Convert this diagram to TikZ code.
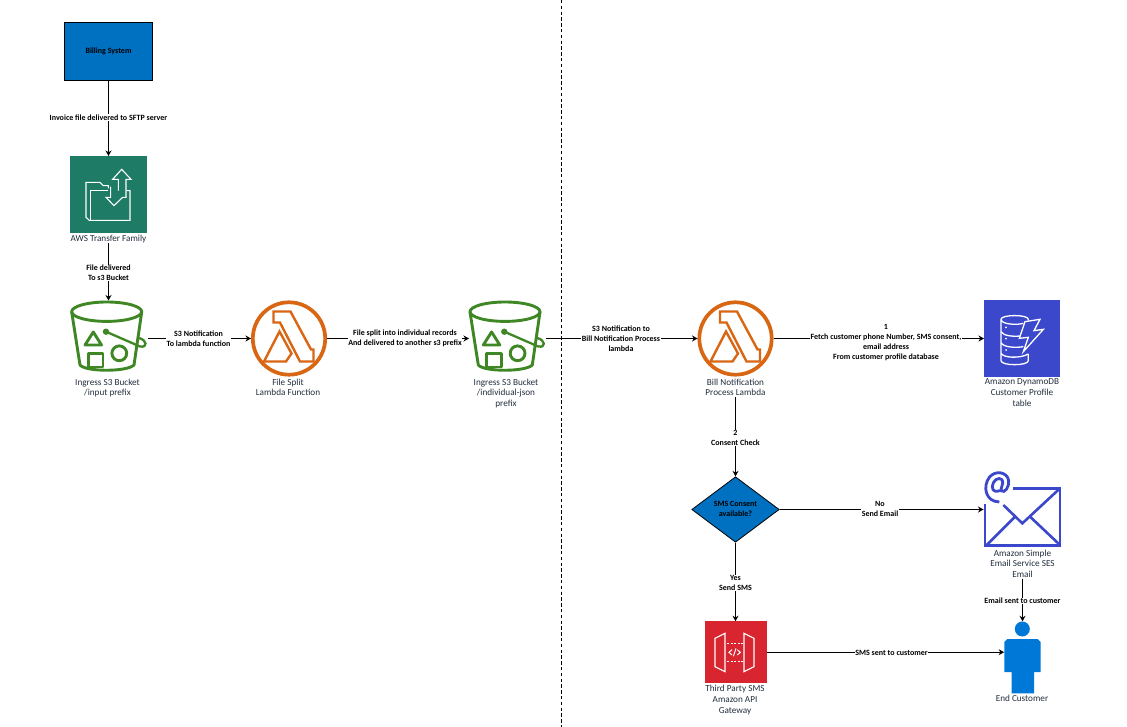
\documentclass[tikz,border=0pt]{standalone}
\usepackage{fontspec}
\setmainfont{Carlito}
\usetikzlibrary{arrows.meta,shapes.geometric}
\definecolor{billblue}{HTML}{0070C0}
\definecolor{transfergreen}{HTML}{1D7B66}
\definecolor{bucketgreen}{HTML}{3F8624}
\definecolor{lambdaorange}{HTML}{D86613}
\definecolor{dynblue}{HTML}{3B48CC}
\definecolor{apired}{HTML}{D9252F}
\definecolor{personblue}{HTML}{0078D7}
\definecolor{captiongrey}{HTML}{232F3E}
\tikzset{
  conn/.style={draw=black,line width=.9pt,-{Stealth[length=5.5pt,width=6pt]}},
  edgelabel/.style={fill=white,inner xsep=.6pt,inner ysep=.4pt,align=center,text=black,font=\fontsize{8}{9.9}\selectfont\bfseries},
  caption/.style={align=center,inner sep=.5pt,anchor=north,text=captiongrey,font=\fontsize{9.2}{10.9}\selectfont},
  iconbox/.style={inner sep=0pt,outer sep=0pt,minimum width=#1,minimum height=#1},
  zoomed/.style={x=.33333pt,y=-.33333pt},
  whiteicon/.style={draw=white,line width=1.1pt,line join=miter,fill=none},
  bucketline/.style={draw=bucketgreen,line width=2.9pt,line join=round,line cap=round},
  lambdaline/.style={draw=lambdaorange,line width=2.4pt,line join=miter},
  sesline/.style={draw=dynblue,line width=2.6pt,line cap=butt}
}
\newcommand{\bucketicon}[2]{%
  \begin{scope}[shift={(#1,#2)}]
    \draw[bucketline] (106.7,311.7) ellipse [x radius=35,y radius=9.7];
    \draw[bucketline] (71.7,312) -- (80,365) .. controls (86,372) and (127,372) .. (134,365) -- (141.7,312);
    \draw[bucketline] (93.3,332) -- (101.5,345) -- (85,345) -- cycle;
    \draw[bucketline] (88.5,353.5) rectangle (103,367);
    \draw[bucketline] (119.3,353.3) circle [radius=7.4];
    \fill[bucketgreen] (106,331.7) circle [radius=3.2];
    \draw[bucketgreen,line width=2.3pt,line cap=round] (106,331.7) -- (140,346.5) .. controls (148,348) and (147,340) .. (139,338);
  \end{scope}}
\newcommand{\lambdaicon}[2]{%
  \begin{scope}[shift={(#1,#2)}]
    \draw[draw=lambdaorange,line width=3.7pt] (0,0) circle [radius=36.2];
    \draw[lambdaline] (-15.5,-27) -- (1.5,-27) -- (22,11) -- (24.5,11) -- (24.5,23) -- (11,23) -- (-9,-16) -- (-15.5,-16) -- cycle;
    \draw[lambdaline] (-9.5,-7) -- (2.5,15) -- (-3,23) -- (-25,23) -- cycle;
  \end{scope}}
\begin{document}
\begin{tikzpicture}[x=1pt,y=-1pt]
\useasboundingbox (0,0) rectangle (1127,727);
\fill[white] (0,0) rectangle (1127,727);

% partition
\coordinate (dashtop) at (561.5,0);
\coordinate (dashbottom) at (561.5,727);
\draw[black,line width=.8pt,dash pattern=on 3.4pt off 2.4pt] (dashtop) -- (dashbottom);

% icon nodes
\node[draw=black,line width=.8pt,fill=billblue,minimum width=88pt,minimum height=58pt,inner sep=0pt,
      font=\fontsize{8}{9}\selectfont\bfseries] (billing) at (108.5,51) {Billing System};
\node[iconbox=77pt,fill=transfergreen] (transfer) at (108.5,194.5) {};
\node[iconbox=76pt] (bucketa) at (108.5,338.5) {};
\node[iconbox=76pt] (lambdaa) at (289,338.5) {};
\node[iconbox=76pt] (bucketb) at (507,338.5) {};
\node[iconbox=76pt] (lambdab) at (735.5,338.5) {};
\node[iconbox=76pt,fill=dynblue] (dynamo) at (1022,338.5) {};
\node[diamond,aspect=1.33,draw=black,line width=.8pt,fill=billblue,inner sep=0pt,minimum width=87.5pt,minimum height=65.5pt] (consent) at (735.5,509.5) {};
\node[iconbox=77pt] (ses) at (1022,516.5) {};
\node[iconbox=62pt,fill=apired] (apigw) at (735.5,652.2) {};
\node[inner sep=0pt,minimum width=36.4pt,minimum height=72pt] (person) at (1022.5,657.5) {};

% captions
\node[caption] (transfercap) at (108.5,234.2) {AWS Transfer Family};
\node[caption] (bucketacap) at (107.5,378) {Ingress S3 Bucket\\/input prefix};
\node[caption] (lambdaacap) at (288,378) {File Split\\Lambda Function};
\node[caption] (bucketbcap) at (506,378) {Ingress S3 Bucket\\/individual-json\\prefix};
\node[caption] (lambdabcap) at (735.5,378) {Bill Notification\\Process Lambda};
\node[caption] (dynamocap) at (1022,378) {Amazon DynamoDB\\Customer Profile\\table};
\node[caption] (sescap) at (1022.5,549) {Amazon Simple\\Email Service SES\\Email};
\node[caption] (apigwcap) at (735,684.3) {Third Party SMS\\Amazon API\\Gateway};
\node[caption] (personcap) at (1022,694) {End Customer};

% icons
\begin{scope}[shift={(40,140)},zoomed]
  \draw[whiteicon] (205,145) -- (205,137) -- (190,137) -- (180,127) -- (138,127) -- (138,232) -- (148,241) -- (270,241) -- (270,152) -- (260,152);
  \draw[whiteicon] (205,152) -- (152,152) -- (152,241);
  \draw[whiteicon] (235,152) -- (235,118) -- (218,118) -- (245,88) -- (273,118) -- (258,118) -- (258,172) -- (248,172) -- (222,197) -- (198,172) -- (212,172) -- (212,140);
\end{scope}
\bucketicon{0}{0}
\bucketicon{398.3}{0}
\lambdaicon{289}{338.5}
\lambdaicon{735.5}{338.5}
\begin{scope}[shift={(960,290)},zoomed]
  \draw[whiteicon,line width=1.3pt] (123,88) .. controls (123,73) and (205,73) .. (205,88) -- (205,92);
  \draw[whiteicon,line width=1.3pt] (123,88) -- (123,212) .. controls (123,228) and (205,228) .. (205,212) -- (205,192);
  \draw[whiteicon,line width=1.3pt] (123,88) .. controls (123,103) and (170,106) .. (190,100);
  \draw[whiteicon,line width=1.3pt] (123,125) .. controls (130,138) and (160,140) .. (180,138);
  \draw[whiteicon,line width=1.3pt] (123,158) .. controls (130,172) and (165,174) .. (190,170);
  \draw[whiteicon,line width=1.3pt] (123,190) .. controls (130,204) and (180,206) .. (205,192);
  \draw[whiteicon,line width=1.3pt] (195,95) -- (240,88) -- (222,122) -- (250,118) -- (190,185) -- (205,142) -- (178,145) -- cycle;
  \fill[white] (138,112) circle [radius=3] (138,146) circle [radius=3] (138,180) circle [radius=3];
\end{scope}
\begin{scope}[shift={(960,460)},zoomed]
  \draw[sesline] (158,85) -- (300,85) -- (300,257) -- (75,257) -- (75,132);
  \draw[sesline] (300,85) -- (187,190) -- (130,135);
  \draw[sesline] (80,255) -- (165,170);
  \draw[sesline] (210,170) -- (300,255);
  \draw[sesline,line width=2.8pt] (118,92) .. controls (100,100) and (92,85) .. (100,68) .. controls (108,52) and (130,50) .. (128,70) -- (122,92) .. controls (135,102) and (148,80) .. (146,62) .. controls (142,35) and (105,30) .. (88,52) .. controls (68,78) and (75,125) .. (118,126);
\end{scope}
\begin{scope}[shift={(680,610)},zoomed]
  \draw[whiteicon] (105,85) -- (135,70) -- (135,185) -- (105,170) -- cycle;
  \draw[whiteicon] (192,70) -- (222,85) -- (222,170) -- (192,185) -- cycle;
  \draw[white,line width=1.2pt,dash pattern=on 2pt off 1.6pt] (141,100) -- (189,100);
  \draw[white,line width=1.2pt,dash pattern=on 2pt off 1.6pt] (141,155) -- (189,155);
  \draw[white,line width=1pt] (156,119) -- (147,127) -- (156,135);
  \draw[white,line width=1pt] (172,119) -- (181,127) -- (172,135);
  \draw[white,line width=1pt] (168,115) -- (160,139);
\end{scope}
\fill[personblue] (1022.3,629) circle [radius=7.5];
\fill[personblue] (1004.3,642) -- (1007.3,639) -- (1037.7,639) -- (1040.7,642) -- (1040.7,672) -- (1034,672) -- (1034,693.3) -- (1011.5,693.3) -- (1011.5,672) -- (1004.3,672) -- cycle;

% connectors
\draw[conn] (billing.south) -- (transfer.north);
\draw[conn] (transfercap.south) -- (transfercap.south |- bucketa.north);
\draw[conn] (bucketa.east) ++(1,0) -- (lambdaa.west);
\draw[conn] (lambdaa.east) -- (bucketb.west);
\draw[conn] (bucketb.east) ++(1,0) -- (lambdab.west);
\draw[conn] (lambdab.east) -- (dynamo.west);
\draw[conn] (lambdabcap.south) -- (consent.north);
\draw[conn] (consent.east) -- (consent.east -| ses.west);
\draw[conn] (consent.south) -- (consent.south |- apigw.north);
\draw[conn] (sescap.south) -- (sescap.south |- person.north);
\draw[conn] (apigw.east) -- (apigw.east -| person.west);

% connector labels
\node[edgelabel] (l1) at (108.5,117.7) {Invoice file delivered to SFTP server};
\node[edgelabel] (l2) at (108.5,273) {File delivered\\To s3 Bucket};
\node[edgelabel] (l3) at (198.5,338.7) {S3 Notification\\To lambda function};
\node[edgelabel] (l4) at (405,338.7) {File split into individual records\\And delivered to another s3 prefix};
\node[edgelabel] (l5) at (621,338.7) {S3 Notification to\\Bill Notification Process\\lambda};
\node[edgelabel] (l6) at (886,342.7) {1\\Fetch customer phone Number, SMS consent,\\email address\\From customer profile database};
\node[edgelabel] (l7) at (735.5,438) {2\\Consent Check};
\node[edgelabel] (l8) at (880,509) {No\\Send Email};
\node[edgelabel] (l9) at (735.5,583) {Yes\\Send SMS};
\node[edgelabel] (l10) at (1022.5,601) {Email sent to customer};
\node[edgelabel] (l11) at (891.5,652.7) {SMS sent to customer};
\node[edgelabel,fill=none] (l12) at (735.5,509.2) {SMS Consent\\available?};
\end{tikzpicture}
\end{document}
